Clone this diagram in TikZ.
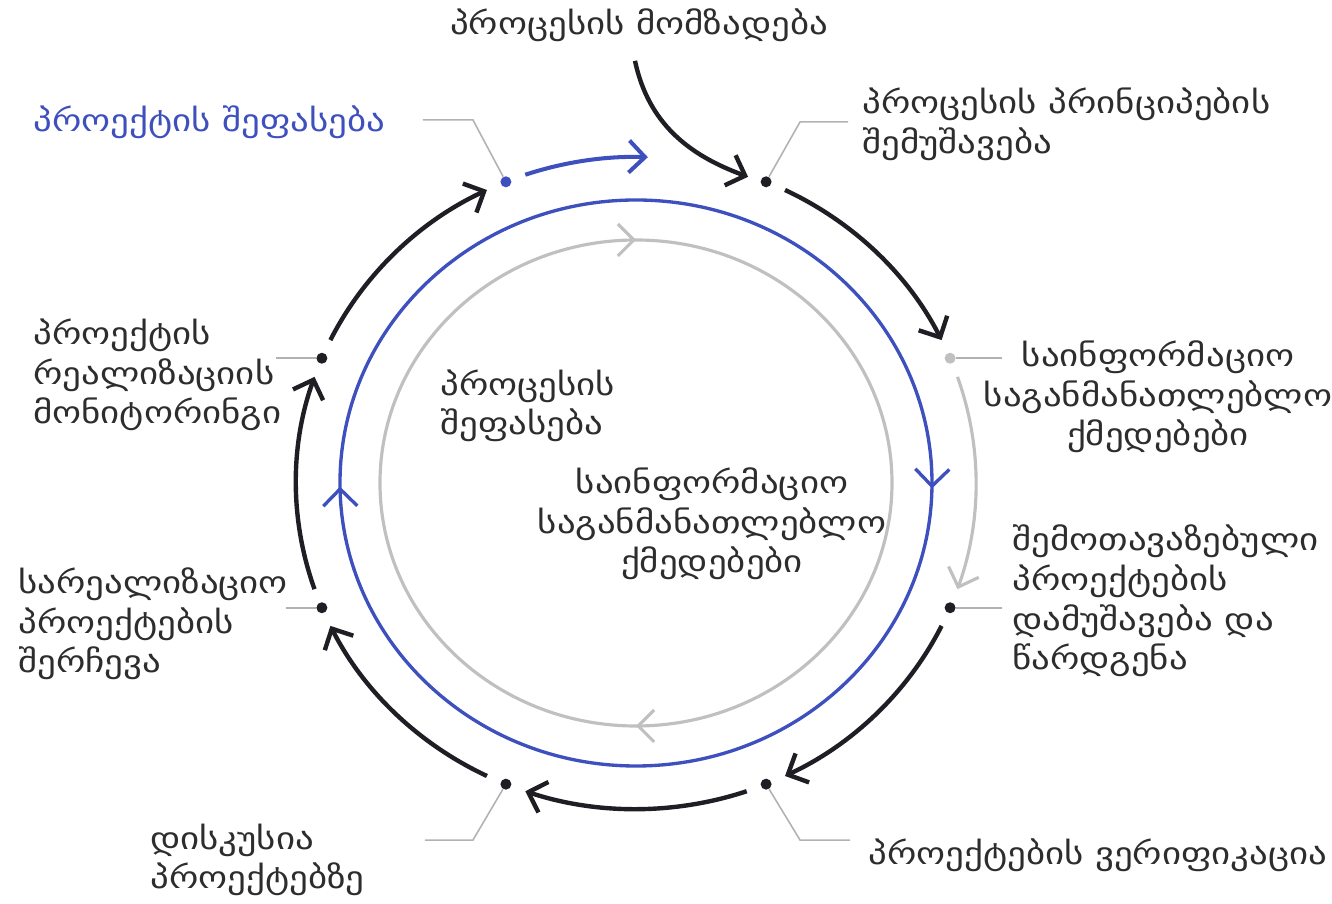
\documentclass[tikz,border=0pt]{standalone}
\usepackage{fontspec}
\setmainfont{DejaVu Sans}[FakeStretch=1.2]
\usepackage{tikz}
\usetikzlibrary{arrows.meta,decorations.markings}

\definecolor{ringblack}{RGB}{30,30,36}
\definecolor{ringblue}{RGB}{62,80,190}
\definecolor{ringgray}{RGB}{192,192,192}
\definecolor{leadgray}{RGB}{178,178,178}
\definecolor{labeltext}{RGB}{45,45,45}

\tikzset{
	barb/.style={-{Straight Barb[length=3.2mm,width=6.4mm]}},
	outerarc/.style={ringblack, line width=2.5pt, barb},
	leader/.style={leadgray, line width=0.9pt},
	ringdot/.style={circle, fill=#1, inner sep=0pt, minimum size=2.2mm},
	steptext/.style={labeltext, font=\fontsize{17.5}{22.5}\selectfont, align=left, inner sep=0pt},
}

\begin{document}
\begin{tikzpicture}
	\useasboundingbox (-12.72,-8.42) rectangle (13.92,9.66);

	\foreach \i/\a/\c in {1/67.5/ringblack, 2/22.5/ringgray, 3/-22.5/ringblack, 4/-67.5/ringblack,
		5/-112.5/ringblack, 6/-157.5/ringblack, 7/157.5/ringblack, 8/112.5/ringblue}
		\node[ringdot=\c] (d\i) at (\a:6.8 and 6.52) {};

	\foreach \a/\c/\w in {67.5/ringblack/2.5pt, 22.5/ringgray/1.8pt, -22.5/ringblack/2.5pt, -67.5/ringblack/2.5pt,
		-112.5/ringblack/2.5pt, -157.5/ringblack/2.5pt, -202.5/ringblack/2.5pt}
		\draw[outerarc, \c, line width=\w] ({\a-3.5}:6.8 and 6.52) arc[start angle=\a-3.5, end angle=\a-41.5, x radius=6.8, y radius=6.52];
	\draw[outerarc, ringblue, line width=2.3pt] (109:6.8 and 6.52) arc[start angle=109, end angle=88, x radius=6.8, y radius=6.52];

	\draw[ringblue, line width=1.9pt, postaction={decorate, decoration={markings,
		mark=at position 0.253 with {\arrow{Straight Barb[length=3.4mm,width=6.8mm]}},
		mark=at position 0.748 with {\arrow{Straight Barb[length=3.4mm,width=6.8mm]}}}}]
		(90:5.92 and 5.66) arc[start angle=90, end angle=-270, x radius=5.92, y radius=5.66];
	\draw[ringgray, line width=1.8pt, postaction={decorate, decoration={markings,
		mark=at position 0.25 with {\arrow{Straight Barb[length=3.2mm,width=6.4mm]}},
		mark=at position 0.75 with {\arrow{Straight Barb[length=3.2mm,width=6.4mm]}}}}]
		(180:5.12 and 4.86) arc[start angle=180, end angle=-180, x radius=5.12, y radius=4.86];

	\node[steptext, anchor=center] (prep) at (0.06,9.16) {პროცესის მომზადება};
	\node[steptext, anchor=west] (princ) at (4.52,7.18) {პროცესის პრინციპების\\შემუშავება};
	\node[steptext, anchor=center, align=center] (info) at (10.44,1.72) {საინფორმაციო\\საგანმანათლებლო\\ქმედებები};
	\node[steptext, anchor=west] (offer) at (7.52,-2.36) {შემოთავაზებული\\პროექტების\\დამუშავება და\\წარდგენა};
	\node[steptext, anchor=west] (verif) at (4.64,-7.44) {პროექტების ვერიფიკაცია};
	\node[steptext, anchor=west] (discuss) at (-9.72,-7.54) {დისკუსია\\პროექტებზე};
	\node[steptext, anchor=west] (select) at (-12.36,-2.82) {სარეალიზაციო\\პროექტების\\შერჩევა};
	\node[steptext, anchor=west] (monitor) at (-12.06,2.16) {პროექტის\\რეალიზაციის\\მონიტორინგი};
	\node[steptext, anchor=west, text=ringblue] (projeval) at (-12.06,7.22) {პროექტის შეფასება};
	\node[steptext, anchor=west] (proceval) at (-3.92,1.54) {პროცესის\\შეფასება};
	\node[steptext, anchor=center, align=center] (innerinfo) at (1.52,-0.82) {საინფორმაციო\\საგანმანათლებლო\\ქმედებები};

	\draw[outerarc] ([shift={(-0.08,-0.38)}]prep.south) to[out=-78, in=160] ([shift={(-0.36,0.1)}]d1);

	\draw[leader] ([shift={(0.2,0.32)}]d1) -- ++(0.48,0.88) -- ++(0.96,0);
	\draw[leader] ([shift={(0.44,0)}]d2) -- ++(0.6,0);
	\draw[leader] ([shift={(0.44,0)}]d3) -- ++(0.6,0);
	\draw[leader] ([shift={(0.2,-0.32)}]d4) -- ++(0.48,-0.8) -- ++(1.0,0);
	\draw[leader] ([shift={(-0.2,-0.32)}]d5) -- ++(-0.46,-0.8) -- ++(-0.96,0);
	\draw[leader] ([shift={(-0.38,0)}]d6) -- ++(-0.34,0);
	\draw[leader] ([shift={(-0.54,0)}]d7) -- ++(-0.38,0);
	\draw[leader] ([shift={(-0.18,0.38)}]d8) -- ++(-0.48,0.86) -- ++(-1.0,0);
\end{tikzpicture}
\end{document}
